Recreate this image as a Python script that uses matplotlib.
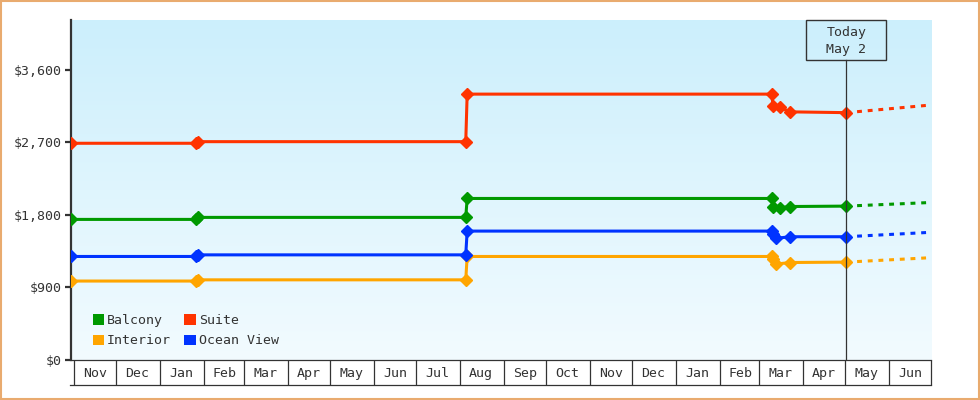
#!/usr/bin/env python3

import datetime as dt

import matplotlib
matplotlib.use("Agg")
import matplotlib.dates as mdates
import matplotlib.pyplot as plt
import numpy as np
from matplotlib.lines import Line2D
from matplotlib.patches import Patch, Rectangle

# price history
suite_dates = ["2023-10-30", "2024-01-27", "2024-01-28", "2024-08-05", "2024-08-06",
               "2025-03-10", "2025-03-11", "2025-03-16", "2025-03-23", "2025-05-02"]
suite_prices = [2690, 2690, 2710, 2710, 3300, 3300, 3155, 3135, 3080, 3070]

balcony_dates = suite_dates
balcony_prices = [1745, 1745, 1770, 1770, 2005, 2005, 1900, 1890, 1905, 1910]

ocean_dates = ["2023-10-30", "2024-01-27", "2024-01-28", "2024-08-05", "2024-08-06",
               "2025-03-10", "2025-03-11", "2025-03-13", "2025-03-23", "2025-05-02"]
ocean_prices = [1285, 1285, 1305, 1305, 1600, 1600, 1560, 1510, 1530, 1530]

interior_dates = ocean_dates
interior_prices = [980, 980, 995, 995, 1285, 1285, 1250, 1190, 1210, 1215]

# forecast (dashed), today -> end of range
forecast_dates = ["2025-05-02", "2025-07-01"]
suite_forecast = [3070, 3165]
balcony_forecast = [1910, 1955]
ocean_forecast = [1530, 1585]
interior_forecast = [1215, 1270]

today = "2025-05-02"
today_label = "Today\nMay 2"
x_start, x_end = "2023-10-30", "2025-07-01"
y_ticks = [0, 900, 1800, 2700, 3600]
y_max = 4220

series = [
    ("Interior", interior_dates, interior_prices, interior_forecast, "#FFA500"),
    ("Ocean View", ocean_dates, ocean_prices, ocean_forecast, "#0033FF"),
    ("Balcony", balcony_dates, balcony_prices, balcony_forecast, "#009900"),
    ("Suite", suite_dates, suite_prices, suite_forecast, "#FF3300"),
]
legend_order = ["Balcony", "Interior", "Suite", "Ocean View"]

TXT = "#333333"
FONT = "DejaVu Sans Mono"
FS = 9.5


def d(s):
    return dt.datetime.strptime(s, "%Y-%m-%d")


fig = plt.figure(figsize=(9.8, 4), dpi=100)
ax = fig.add_axes([71 / 980, 40 / 400, 860 / 980, 340 / 400])

# gradient background
grad = np.linspace(0, 1, 256)[:, None]
top = np.array([204, 239, 252]) / 255
bot = np.array([242, 251, 255]) / 255
img = (top[None, None, :] * (1 - grad[..., None]) + bot[None, None, :] * grad[..., None])
ax.imshow(img, extent=[0, 1, 0, 1], transform=ax.transAxes, aspect="auto", zorder=0)
ax.set_facecolor("none")

for name, dates, prices, fc, color in series:
    ax.plot([d(s) for s in dates], prices, color=color, lw=2.2, marker="D",
            ms=6.3, mec=color, zorder=3)
    ax.plot([d(s) for s in forecast_dates], fc, color=color, lw=2.2,
            linestyle=(0, (1.6, 1.9)), zorder=3)

ax.set_xlim(d(x_start), d(x_end))
ax.set_ylim(0, y_max)

# today line and box
ax.axvline(d(today), ymin=0, ymax=300 / 340, color=TXT, lw=0.9, zorder=4)
tx = ax.transAxes.inverted().transform(ax.transData.transform((mdates.date2num(d(today)), 0)))[0]
ax.add_patch(Rectangle((tx - 40 / 860, 300 / 340), 80 / 860, 40 / 340, transform=ax.transAxes,
                       fill=False, edgecolor=TXT, lw=1, clip_on=False, zorder=5))
ax.text(tx, 319 / 340, today_label, transform=ax.transAxes, ha="center", va="center",
        family=FONT, fontsize=FS, color=TXT, linespacing=1.45, zorder=5)

# y axis
ax.set_yticks(y_ticks)
ax.set_yticklabels([f"${v:,}" for v in y_ticks], family=FONT, fontsize=FS, color=TXT)
ax.tick_params(axis="y", length=4, width=1.6, color=TXT, pad=3)

# month boxes on x axis
ax.xaxis.set_major_locator(mdates.MonthLocator())
ax.xaxis.set_major_formatter(plt.NullFormatter())
ax.xaxis.set_minor_locator(mdates.MonthLocator(bymonthday=16))
ax.xaxis.set_minor_formatter(mdates.DateFormatter("%b"))
ax.tick_params(axis="x", which="major", length=18, width=0.9, color=TXT, direction="out")
ax.tick_params(axis="x", which="minor", length=0, pad=5, labelsize=FS, labelcolor=TXT)
for lab in ax.get_xticklabels(minor=True):
    lab.set_family(FONT)
ax.add_line(Line2D([-1 / 860, 1], [-25 / 340, -25 / 340], transform=ax.transAxes,
                   color=TXT, lw=0.9, clip_on=False))

for side in ("top", "right"):
    ax.spines[side].set_visible(False)
ax.spines["left"].set_color(TXT)
ax.spines["left"].set_linewidth(1.6)
ax.spines["bottom"].set_color(TXT)
ax.spines["bottom"].set_linewidth(0.9)

# legend
colors = {name: color for name, _, _, _, color in series}
handles = [Patch(facecolor=colors[n], edgecolor="none", label=n) for n in legend_order]
ax.legend(handles=handles, ncol=2, loc="lower left", bbox_to_anchor=(15 / 860, 6 / 340),
          frameon=False, borderpad=0, handlelength=0.85, handleheight=0.85,
          handletextpad=0.25, columnspacing=1.0, labelspacing=0.55,
          prop={"family": FONT, "size": FS}, labelcolor=TXT)

# outer border
fig.patches.append(Rectangle((0.001, 0.002), 0.998, 0.996, transform=fig.transFigure,
                             fill=False, edgecolor="#E9AB6F", lw=1.5))

fig.savefig("out.png", dpi=100)
